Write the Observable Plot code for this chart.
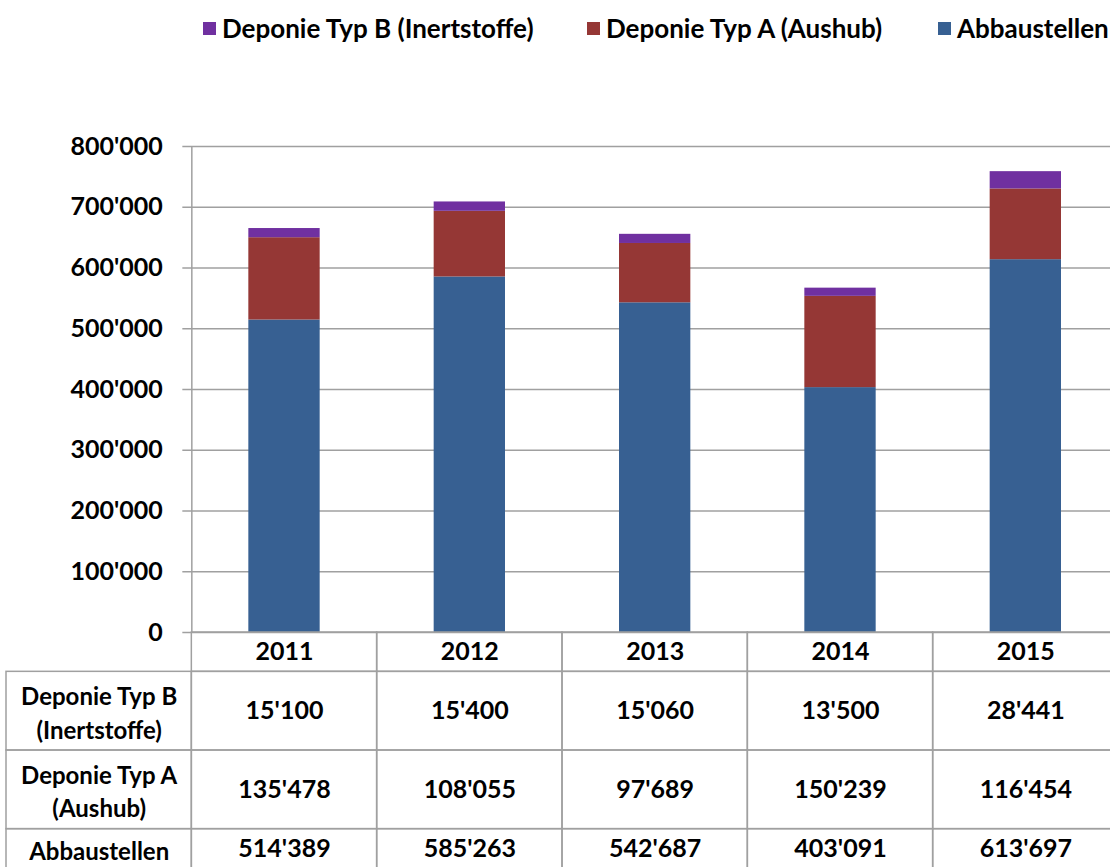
<!DOCTYPE html>
<html><head><meta charset="utf-8">
<script src="https://cdn.jsdelivr.net/npm/d3@7"></script>
<script src="https://cdn.jsdelivr.net/npm/@observablehq/plot@0.6"></script>
<style>
body{margin:0;background:#fff;font-family:Lato,'Open Sans',sans-serif;}
#wrap{position:relative;width:1110px;height:867px;overflow:hidden;background:#fff;}
#legend{height:60px;position:relative;}
.item{position:absolute;top:12px;display:flex;align-items:center;font-weight:bold;font-size:26px;color:#000;white-space:nowrap;}
.sw{width:13px;height:13px;margin-right:6px;display:inline-block;}
svg{display:block;}
#table{margin-top:-8px;}
</style></head>
<body><div id="wrap"><div id="legend"></div><div id="chart"></div><div id="table"></div></div>
<script>
const years = ["2011","2012","2013","2014","2015"];
const abbaustellen = [514389,585263,542687,403091,613697];
const typA = [135478,108055,97689,150239,116454];
const typB = [15100,15400,15060,13500,28441];
const seriesNames = ["Abbaustellen","Deponie Typ A (Aushub)","Deponie Typ B (Inertstoffe)"];
const seriesColors = ["#376092","#953735","#7030A0"];
const legendOrder = ["Deponie Typ B (Inertstoffe)","Deponie Typ A (Aushub)","Abbaustellen"];
const legendLeft = [203,587,938];
const yTicks = [0,100000,200000,300000,400000,500000,600000,700000,800000];
const rowLabels = [["Deponie Typ B","(Inertstoffe)"],["Deponie Typ A","(Aushub)"],["Abbaustellen"]];

const FONT = "Lato, 'Open Sans', sans-serif";
const GRAY = "#a0a0a0";
const fmt = v => d3.format(",")(v).replace(/,/g, "'");

// legend
const leg = document.getElementById("legend");
legendOrder.forEach((name,k) => {
  const it = document.createElement("div");
  it.className = "item";
  it.style.left = legendLeft[k] + "px";
  const sw = document.createElement("span");
  sw.className = "sw";
  sw.style.background = seriesColors[seriesNames.indexOf(name)];
  it.appendChild(sw);
  it.appendChild(document.createTextNode(name));
  leg.appendChild(it);
});

// stacked segments
const seriesVals = [abbaustellen, typA, typB];
const segs = [];
years.forEach((yr,i) => {
  let acc = 0;
  seriesVals.forEach((arr,j) => {
    segs.push({i, year: yr, series: seriesNames[j], y1: acc, y2: acc + arr[i]});
    acc += arr[i];
  });
});

const chart = Plot.plot({
  width: 1110, height: 580, marginTop: 86, marginBottom: 8, marginLeft: 0, marginRight: 0,
  style: {fontFamily: FONT, fontSize: "25px", fontWeight: "bold", color: "#000", background: "transparent", overflow: "visible"},
  x: {type: "linear", domain: [-1, 5], range: [6, 1118], axis: null},
  y: {domain: [0, 800000], range: [572, 86], axis: null},
  color: {domain: seriesNames, range: seriesColors},
  marks: [
    Plot.ruleY(yTicks, {x1: 0, x2: 5, stroke: GRAY, strokeWidth: 1.5, insetLeft: -9}),
    Plot.rect(segs, {x1: "i", x2: d => d.i + 1, y1: "y1", y2: "y2", fill: "series", insetLeft: 57, insetRight: 57}),
    Plot.ruleX([0], {y1: 0, y2: 800000, stroke: GRAY, strokeWidth: 1.5}),
    Plot.text(yTicks, {x: 0, y: d => d, text: fmt, textAnchor: "end", dx: -29, fill: "#000"})
  ]
});
document.getElementById("chart").appendChild(chart);

// table
const rows = [{label: [], lines: 1, vals: years}]
  .concat(rowLabels.map((lab, r) => ({label: lab, lines: Math.max(lab.length, 1), vals: [typB, typA, abbaustellen][r].map(fmt)})));
let acc = 0;
rows.forEach(r => { r.y0 = acc; acc += r.lines; });
const cells = [];
const valueTexts = [];
const labelTexts = [];
rows.forEach((r, ri) => {
  for (let c = -1; c < years.length; c++) {
    if (ri === 0 && c === -1) continue;
    cells.push({x1: c, x2: c + 1, y1: r.y0, y2: r.y0 + r.lines});
    const t = {x: c + 0.5, y: r.y0 + r.lines / 2, text: c === -1 ? r.label.join("\n") : r.vals[c]};
    (c === -1 ? labelTexts : valueTexts).push(t);
  }
});
const table = Plot.plot({
  width: 1110, height: 240, marginTop: 0, marginBottom: 0, marginLeft: 0, marginRight: 0,
  style: {fontFamily: FONT, fontSize: "25px", fontWeight: "bold", color: "#000", background: "transparent", overflow: "visible"},
  x: {type: "linear", domain: [-1, 5], range: [6, 1118], axis: null},
  y: {type: "linear", domain: [0, acc], range: [0, 236], axis: null},
  marks: [
    Plot.rect(cells, {x1: "x1", x2: "x2", y1: "y1", y2: "y2", fill: "none", stroke: GRAY, strokeWidth: 1.5}),
    Plot.text(valueTexts, {x: "x", y: "y", text: "text", fill: "#000"}),
    Plot.text(labelTexts, {x: "x", y: "y", text: "text", lineHeight: 1.4, fontSize: 24, fill: "#000"})
  ]
});
document.getElementById("table").appendChild(table);
</script></body></html>
